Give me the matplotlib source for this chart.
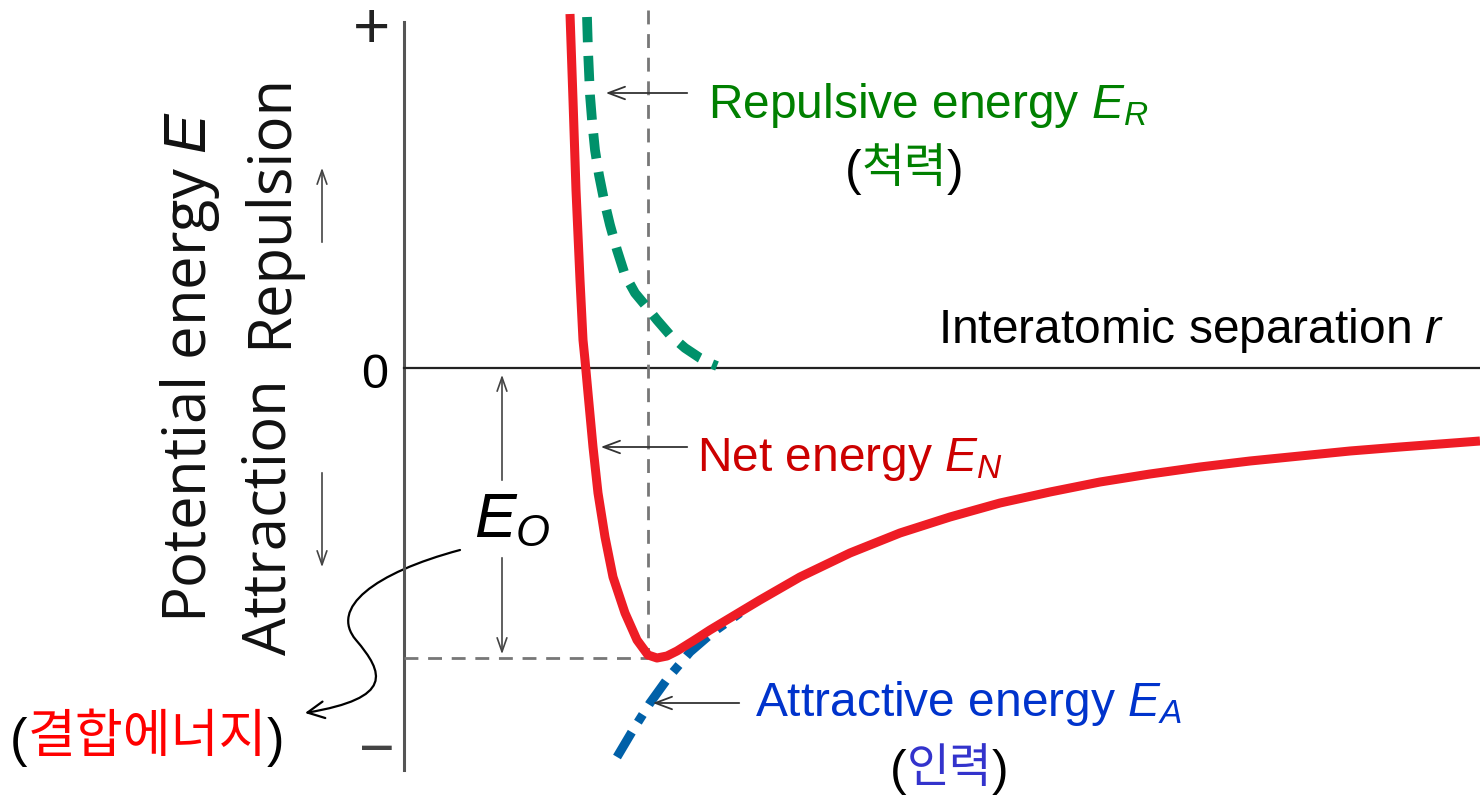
import matplotlib
matplotlib.use("Agg")
import matplotlib.pyplot as plt
from matplotlib.patches import FancyArrowPatch
from matplotlib.path import Path

plt.rcParams["mathtext.fontset"] = "custom"
plt.rcParams["mathtext.rm"] = "Liberation Sans"
plt.rcParams["mathtext.it"] = "Liberation Sans:italic"
plt.rcParams["font.family"] = ["Liberation Sans", "DejaVu Sans"]

# --- curve data (r, E) ---
net_r = [166, 169, 172, 176, 179, 181, 184, 189, 194, 201, 209, 221, 233, 244, 253, 263, 273, 289, 306, 331, 356,
         396, 446, 496, 546, 596, 646, 696, 746, 796, 846, 896, 946, 996, 1076]
net_E = [354, 268, 178, 88, 28, 8, -25, -79, -125, -169, -209, -245, -272, -287, -290, -288, -283, -273, -262, -247, -232,
         -209, -185, -165, -149, -135, -124, -114, -106, -99, -93, -88, -83, -79, -73]

rep_r = [183, 184, 186, 188, 191, 195, 200, 206, 213, 221, 231, 241, 253, 266, 281, 296, 308, 313]
rep_E = [351, 318, 273, 248, 218, 193, 168, 143, 118, 93, 75, 63, 48, 33, 20, 10, 4, 2]

att_r = [213, 229, 246, 264, 286, 308, 336]
att_E = [-389, -362, -335, -310, -284, -265, -245]

r0 = 244      # equilibrium separation
E0 = -290     # bonding energy level

fig = plt.figure(figsize=(14.8, 7.95), dpi=100)
ax = fig.add_axes([0, 0, 1, 1])
ax.set_xlim(-404, 1076)
ax.set_ylim(-427, 368)
ax.axis("off")

# axes
ax.plot([0, 0], [346, -402], color="#555555", lw=2.2)
ax.plot([0, 1076], [0, 0], color="#222222", lw=1.6)
ax.text(-33, 337, "+", fontsize=46, ha="center", va="center", color="#222222")
ax.text(-29, -7, "0", fontsize=35, ha="center", va="center")
ax.text(-27, -385, "\u2212", fontsize=44, ha="center", va="center", color="#444444")

# guide lines
ax.plot([r0, r0], [358, E0], color="#777777", lw=2, ls=(0, (5, 3.5)))
ax.plot([0, r0], [E0, E0], color="#777777", lw=2, ls=(0, (5, 3.5)))

# curves
ax.plot(rep_r, rep_E, color="#00916a", lw=7, ls=(0, (2.6, 1.4)))
ax.plot(att_r, att_E, color="#0060a8", lw=6.5, ls=(0, (3.2, 1.3, 1, 1.3)))
ax.plot(net_r, net_E, color="#ee1c25", lw=6.5, solid_capstyle="butt", solid_joinstyle="round")

# pointer arrows
arr = dict(arrowstyle="->,head_length=1.2,head_width=0.45", color="#333333", lw=1.3)
ax.annotate("", xy=(199, 275), xytext=(286, 275), arrowprops=arr)
ax.annotate("", xy=(194, -79), xytext=(286, -79), arrowprops=arr)
ax.annotate("", xy=(246, -335), xytext=(338, -335), arrowprops=arr)

# labels
fs = 34.5
ax.text(304, 250, r"Repulsive energy $E_R$", fontsize=fs, color="#008000", va="baseline")
t = ax.text(441, 183, "(", fontsize=36, color="black", va="baseline")
t = ax.annotate("척력", xy=(1, 0.05), xycoords=t, fontsize=33.5, color="#008000", va="bottom",
                family=["Noto Sans CJK KR"])
ax.annotate(")", xy=(1, -0.05), xycoords=t, fontsize=36, color="black", va="bottom")

ax.text(293, -103, r"Net energy $E_N$", fontsize=fs, color="#cc0000", va="baseline")

ax.text(351, -348, r"Attractive energy $E_A$", fontsize=fs, color="#0033cc", va="baseline")
t = ax.text(486, -417, "(", fontsize=36, color="black", va="baseline")
t = ax.annotate("인력", xy=(1, 0.05), xycoords=t, fontsize=33.5, color="#3333cc", va="bottom",
                family=["Noto Sans CJK KR"])
ax.annotate(")", xy=(1, -0.05), xycoords=t, fontsize=36, color="black", va="bottom")

ax.text(1041, 25, r"Interatomic separation $r$", fontsize=fs, color="black", ha="right", va="baseline")

t = ax.text(-394, -388, "(", fontsize=38, color="black", va="baseline")
t = ax.annotate("결합에너지", xy=(1, 0.05), xycoords=t, fontsize=37.5, color="#ff0000", va="bottom",
                family=["Noto Sans CJK KR"])
ax.annotate(")", xy=(1, -0.05), xycoords=t, fontsize=38, color="black", va="bottom")

# y-axis titles
ax.text(-214, 1, r"Potential energy $E$", fontsize=43, rotation=90, ha="center", va="center",
        family=["Open Sans"], color="#111111")
ax.text(-134, 158, "Repulsion", fontsize=43, rotation=90, ha="center", va="center",
        family=["Open Sans"], color="#111111")
ax.text(-134, -149, "Attraction", fontsize=43, rotation=90, ha="center", va="center",
        family=["Open Sans"], color="#111111")
small = dict(arrowstyle="->,head_length=1.0,head_width=0.35", color="#444444", lw=1.2)
ax.annotate("", xy=(-82, 203), xytext=(-82, 123), arrowprops=small)
ax.annotate("", xy=(-82, -202), xytext=(-82, -102), arrowprops=small)

# bonding energy E0
ax.annotate("", xy=(98, -4), xytext=(98, -115), arrowprops=small)
ax.annotate("", xy=(98, E0 + 1), xytext=(98, -187), arrowprops=small)
ax.text(70, -169, r"$E_O$", fontsize=45, color="black", va="baseline")

verts = [(56, -182), (-30, -205), (-75, -240), (-48, -272),
         (-20, -305), (-10, -330), (-99, -345)]
codes = [Path.MOVETO, Path.CURVE4, Path.CURVE4, Path.CURVE4,
         Path.CURVE4, Path.CURVE4, Path.CURVE4]
curly = FancyArrowPatch(path=Path(verts, codes),
                        arrowstyle="->,head_length=12,head_width=6", color="black", lw=1.6)
ax.add_patch(curly)

fig.savefig("out.png", dpi=100)
